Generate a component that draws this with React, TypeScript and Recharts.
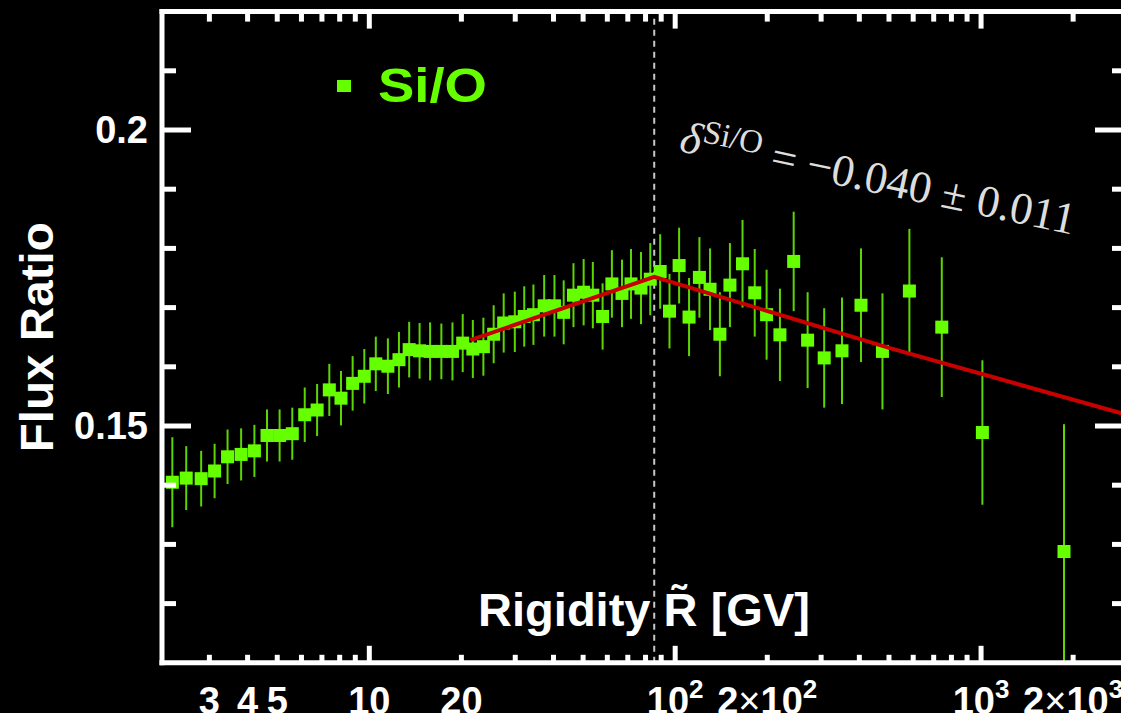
import React from "react";
import { ComposedChart, Scatter, ErrorBar, XAxis, YAxis, ReferenceLine } from "recharts";

// Si/O flux ratio vs rigidity (GV)
const rigidity = [
  2.27, 2.52, 2.82, 3.12, 3.44, 3.81, 4.21, 4.63, 5.09, 5.6, 6.15, 6.75, 7.4, 8.08, 8.82, 9.63,
  10.5, 11.5, 12.5, 13.5, 14.6, 15.8, 17.2, 18.7, 20.2, 21.8, 23.6, 25.5, 27.5, 29.9, 32.1, 34.4,
  37.3, 40.3, 43.2, 46.5, 50.2, 53.8, 57.9, 62.1, 67.0, 71.7, 77.3, 82.9, 89.3, 95.8, 103, 111,
  120, 130, 140, 151, 166, 182, 199, 220, 244, 271, 307, 351, 405, 476, 583, 744, 1010, 1867,
];
const fluxRatio = [
  0.1405, 0.1412, 0.1411, 0.1424, 0.1448, 0.1452, 0.1458, 0.1484, 0.1484, 0.1487, 0.1519, 0.1527,
  0.1561, 0.1547, 0.1572, 0.1584, 0.1605, 0.1601, 0.1612, 0.1629, 0.1627, 0.1626, 0.1626, 0.1626,
  0.164, 0.163, 0.1634, 0.1655, 0.1674, 0.1676, 0.1685, 0.1688, 0.1703, 0.1703, 0.1692, 0.1721,
  0.1726, 0.1721, 0.1685, 0.174, 0.1724, 0.174, 0.1733, 0.1748, 0.1761, 0.1694, 0.1771, 0.1684,
  0.1751, 0.1731, 0.1655, 0.1738, 0.1774, 0.1725, 0.1688, 0.1654, 0.1778, 0.1645, 0.1615, 0.1627,
  0.1704, 0.1626, 0.1728, 0.1667, 0.1489, 0.1288,
];
const ratioError = [
  0.0076, 0.0054, 0.0047, 0.0046, 0.0046, 0.0044, 0.0044, 0.0044, 0.0044, 0.0044, 0.0046, 0.0044,
  0.0044, 0.0046, 0.0046, 0.0046, 0.0046, 0.0047, 0.0047, 0.0047, 0.0047, 0.0049, 0.0047, 0.0049,
  0.0049, 0.0049, 0.0049, 0.0049, 0.005, 0.0051, 0.0051, 0.0051, 0.0052, 0.0052, 0.0054, 0.0054,
  0.0056, 0.0056, 0.0056, 0.0057, 0.0057, 0.0059, 0.0061, 0.0061, 0.0063, 0.0063, 0.0064, 0.0066,
  0.0068, 0.0069, 0.0071, 0.0071, 0.0074, 0.0074, 0.0076, 0.0078, 0.0084, 0.0081, 0.0084, 0.009,
  0.0096, 0.0098, 0.0105, 0.0118, 0.0122, 0.0215,
];
// lower error that is visible inside the frame (bar runs into the x axis)
const visibleLowerError: Record<number, number> = { 65: 0.0188 };

// broken power-law fit
const fitRigidity = [21.4, 85.4, 500, 3000];
const fitRatio = [0.1645, 0.1752, 0.1632, 0.1519];
const breakRigidity = 85.4;

const xTicks = [3, 4, 5, 6, 7, 8, 9, 10, 20, 30, 40, 50, 60, 70, 80, 90, 100, 200, 300, 400, 500, 600, 700, 800, 900, 1000, 2000];
const xMajor = [10, 100, 1000];
// [prefix, base, exponent]
const xTickLabels: Record<string, [string, string, string]> = {
  "3": ["", "3", ""],
  "4": ["", "4", ""],
  "5": ["", "5", ""],
  "10": ["", "10", ""],
  "20": ["", "20", ""],
  "100": ["", "10", "2"],
  "200": ["2", "10", "2"],
  "1000": ["", "10", "3"],
  "2000": ["2", "10", "3"],
};
const yTicks = [0.12, 0.13, 0.14, 0.15, 0.16, 0.17, 0.18, 0.19, 0.2, 0.21];
const yMajor = [0.15, 0.2];
const yTickLabels: Record<string, string> = { "0.15": "0.15", "0.2": "0.2" };

const points = rigidity.map((r, i) => ({
  R: r,
  v: fluxRatio[i],
  err: i in visibleLowerError ? [visibleLowerError[i], ratioError[i]] : ratioError[i],
}));
const fitData = fitRigidity.map((r, i) => ({ R: r, v: fitRatio[i] }));

const SANS = '"Liberation Sans", Arial, Helvetica, sans-serif';
const SERIF = '"Liberation Serif", "DejaVu Serif", serif';
const GREEN = "#66ff00";

const BottomTick = ({ x, y, payload }: any) => {
  const v = payload.value;
  const len = xMajor.includes(v) ? 17 : 8;
  const lab = xTickLabels[String(v)];
  return (
    <g>
      <line x1={x} x2={x} y1={y} y2={y - len} stroke="#fff" strokeWidth={5} />
      {lab && (
        <text x={x} y={y + 51} textAnchor="middle" fill="#fff" fontFamily={SANS} fontWeight="bold" fontSize={38}>
          {lab[0] && <tspan>{lab[0]}</tspan>}
          {lab[0] && <tspan fontWeight="normal">×</tspan>}
          <tspan>{lab[1]}</tspan>
          {lab[2] && (
            <tspan dy={-16} fontSize={26}>
              {lab[2]}
            </tspan>
          )}
        </text>
      )}
    </g>
  );
};

const TopTick = ({ x, y, payload }: any) => {
  const len = xMajor.includes(payload.value) ? 17 : 10;
  return <line x1={x} x2={x} y1={y} y2={y + len} stroke="#fff" strokeWidth={5} />;
};

const LeftTick = ({ x, y, payload }: any) => {
  const v = payload.value;
  const major = yMajor.includes(v);
  const lab = yTickLabels[String(v)];
  return (
    <g>
      <line x1={x} x2={x + (major ? 29 : 14)} y1={y} y2={y} stroke="#fff" strokeWidth={5} />
      {lab && (
        <text x={x - 14} y={y + 13} textAnchor="end" fill="#fff" fontFamily={SANS} fontWeight="bold" fontSize={38}>
          {lab}
        </text>
      )}
    </g>
  );
};

const RightTick = ({ x, y, payload }: any) => {
  const major = yMajor.includes(payload.value);
  return <line x1={x} x2={x - (major ? 32 : 15)} y1={y} y2={y} stroke="#fff" strokeWidth={5} />;
};

const SquareDot = (props: any) => {
  const { cx, cy } = props;
  return <rect x={cx - 6.5} y={cy - 6.5} width={13} height={13} fill={GREEN} />;
};

const NoDot = () => null;

const frame = { stroke: "#fff", strokeWidth: 5, strokeLinecap: "square" as const };

const App = () => {
  return (
    <div
      style={{
        position: "fixed",
        left: 0,
        top: 0,
        width: 1121,
        height: 713,
        overflow: "hidden",
        background: "#000",
      }}
    >
      <ComposedChart width={1140} height={740} margin={{ top: 0, right: 0, bottom: 0, left: 0 }}>
        <XAxis
          xAxisId="b"
          dataKey="R"
          type="number"
          scale="log"
          domain={[2.1, 3000]}
          allowDataOverflow
          ticks={xTicks}
          interval={0}
          height={77.2}
          tickSize={0}
          tickMargin={0}
          tickLine={false}
          axisLine={frame}
          tick={<BottomTick />}
          label={{
            content: (p: any) => (
              <text
                x={p.viewBox.x + 316}
                y={p.viewBox.y - 37}
                fill="#fff"
                fontFamily={SANS}
                fontWeight="bold"
                fontSize={47}
                textLength={332}
                lengthAdjust="spacingAndGlyphs"
              >
                Rigidity R̃ [GV]
              </text>
            ),
          }}
        />
        <XAxis
          xAxisId="t"
          orientation="top"
          dataKey="R"
          type="number"
          scale="log"
          domain={[2.1, 3000]}
          allowDataOverflow
          ticks={xTicks}
          interval={0}
          height={11.6}
          tickSize={0}
          tickMargin={0}
          tickLine={false}
          axisLine={frame}
          tick={<TopTick />}
        />
        <YAxis
          yAxisId="l"
          type="number"
          domain={[0.11, 0.22]}
          allowDataOverflow
          ticks={yTicks}
          interval={0}
          width={162}
          tickSize={0}
          tickMargin={0}
          tickLine={false}
          axisLine={frame}
          tick={<LeftTick />}
          label={{
            content: (p: any) => {
              const cx = 53;
              const cy = p.viewBox.y + p.viewBox.height / 2;
              return (
                <text
                  x={cx}
                  y={cy}
                  transform={`rotate(-90, ${cx}, ${cy})`}
                  textAnchor="middle"
                  fill="#fff"
                  fontFamily={SANS}
                  fontWeight="bold"
                  fontSize={46}
                  textLength={230}
                  lengthAdjust="spacingAndGlyphs"
                >
                  Flux Ratio
                </text>
              );
            },
          }}
        />
        <YAxis
          yAxisId="r"
          orientation="right"
          type="number"
          domain={[0.11, 0.22]}
          allowDataOverflow
          ticks={yTicks}
          interval={0}
          width={13}
          tickSize={0}
          tickMargin={0}
          tickLine={false}
          axisLine={frame}
          tick={<RightTick />}
        />
        <Scatter
          xAxisId="b"
          yAxisId="l"
          data={points}
          dataKey="v"
          shape={<SquareDot />}
          isAnimationActive={false}
        >
          <ErrorBar dataKey="err" direction="y" width={0} stroke="#5cd600" strokeWidth={2} isAnimationActive={false} />
        </Scatter>
        <Scatter
          xAxisId="b"
          yAxisId="l"
          data={fitData}
          dataKey="v"
          line={{ stroke: "#c80000", strokeWidth: 4 }}
          lineType="joint"
          shape={<NoDot />}
          isAnimationActive={false}
        />
        <ReferenceLine
          xAxisId="b"
          yAxisId="l"
          x={breakRigidity}
          stroke="#c8c8c8"
          strokeWidth={2}
          strokeDasharray="6 5"
        />
      </ComposedChart>
      <svg
        width={1121}
        height={713}
        style={{ position: "absolute", left: 0, top: 0, pointerEvents: "none" }}
      >
        <rect x={337} y={80} width={14} height={12} fill={GREEN} />
        <text
          x={378}
          y={102}
          fill={GREEN}
          fontFamily={SANS}
          fontWeight="bold"
          fontSize={48}
          textLength={109}
          lengthAdjust="spacingAndGlyphs"
        >
          Si/O
        </text>
        <text transform="translate(678,151) rotate(12)" fill="#dddddd" fontFamily={SERIF} fontSize={45}>
          <tspan fontStyle="italic">δ</tspan>
          <tspan fontSize={33} dy={-14}>
            Si/O
          </tspan>
          <tspan dy={14}> = −0.040 ± 0.011</tspan>
        </text>
      </svg>
    </div>
  );
};

export default App;
